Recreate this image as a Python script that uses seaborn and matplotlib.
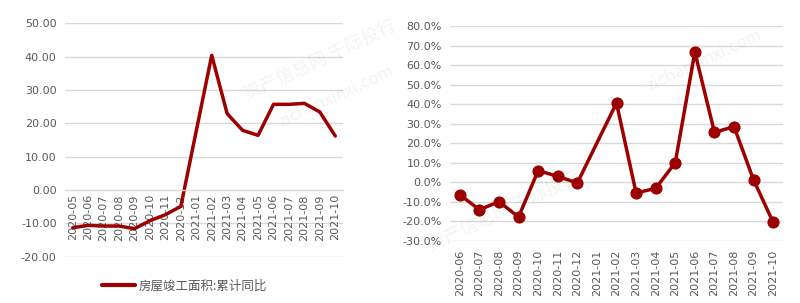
import numpy as np
import pandas as pd
import matplotlib
matplotlib.use("Agg")
import matplotlib.pyplot as plt
import seaborn as sns

# ---------------- data ----------------
left_months = ["2020-05", "2020-06", "2020-07", "2020-08", "2020-09", "2020-10",
               "2020-11", "2020-12", "2021-01", "2021-02", "2021-03", "2021-04",
               "2021-05", "2021-06", "2021-07", "2021-08", "2021-09", "2021-10"]
left_values = [-11.3, -10.6, -10.8, -10.8, -11.6, -9.2, -7.4, -4.9, np.nan, 40.4,
               22.9, 17.9, 16.4, 25.7, 25.7, 26.0, 23.4, 16.2]
left_label = "房屋竣工面积:累计同比"
left_yticks = [-20, -10, 0, 10, 20, 30, 40, 50]

right_months = ["2020-06", "2020-07", "2020-08", "2020-09", "2020-10", "2020-11",
                "2020-12", "2021-01", "2021-02", "2021-03", "2021-04", "2021-05",
                "2021-06", "2021-07", "2021-08", "2021-09", "2021-10"]
right_values = [-6.3, -14.0, -9.9, -17.7, 6.0, 3.1, -0.3, np.nan, 40.6, -5.4,
                -3.1, 10.1, 66.7, 25.6, 28.5, 1.2, -20.5]
right_yticks = [-30, -20, -10, 0, 10, 20, 30, 40, 50, 60, 70, 80]

watermark_cn = "资产信息网 千际投行"
watermark_en = "zichanxinxi.com"

# ---------------- style ----------------
sns.set_theme(style="white")
plt.rcParams['font.family'] = ['DejaVu Sans', 'Noto Sans CJK SC']
RED = "#9C0000"
GRID = "#D9D9D9"
TXT = "#595959"

fig = plt.figure(figsize=(8.0, 3.03), dpi=100)

# ---------------- left chart ----------------
axL = fig.add_axes([0.08125, 0.1528, 0.3475, 0.7702])
dfL = pd.DataFrame({"pos": np.arange(len(left_months)), "val": left_values}).dropna()
sns.lineplot(data=dfL, x="pos", y="val", ax=axL, color=RED, linewidth=2.5,
             label=left_label, legend=False)
axL.set_xlim(-0.5, len(left_months) - 0.5)
axL.set_ylim(-20, 50)
axL.set_yticks(left_yticks)
axL.set_yticklabels([f"{v:.2f}" for v in left_yticks], color=TXT, fontsize=8)
for y in left_yticks:
    if y != 0:
        axL.axhline(y, color=GRID, lw=1, zorder=0)
axL.spines['bottom'].set_position(('data', 0))
axL.spines['bottom'].set_color(GRID)
axL.spines['bottom'].set_linewidth(1)
for s in ['top', 'right', 'left']:
    axL.spines[s].set_visible(False)
axL.set_xticks(np.arange(len(left_months)))
axL.set_xticklabels(left_months, rotation=90, color=TXT, fontsize=8)
axL.set_xticks(np.arange(len(left_months) + 1) - 0.5, minor=True)
axL.tick_params(axis='x', which='major', length=0, pad=3)
axL.tick_params(axis='x', which='minor', length=4, width=1, color=GRID, direction='out')
axL.tick_params(axis='y', length=0, pad=6)
axL.set_xlabel("")
axL.set_ylabel("")

# legend
h = plt.Line2D([], [], color=RED, lw=3)
fig.legend([h], [left_label], loc='center', bbox_to_anchor=(0.231, 0.056),
           frameon=False, handlelength=2.6, handletextpad=0.3,
           prop={'family': 'Noto Sans CJK SC', 'size': 9}, labelcolor=TXT)

# ---------------- right chart ----------------
axR = fig.add_axes([0.5625, 0.2046, 0.41625, 0.7096])
dfR = pd.DataFrame({"pos": np.arange(len(right_months)), "val": right_values}).dropna()
sns.lineplot(data=dfR, x="pos", y="val", ax=axR, color=RED, linewidth=2.5,
             marker="o", markersize=8, markeredgecolor=RED, markerfacecolor=RED,
             legend=False)
axR.set_xlim(-0.5, len(right_months) - 0.5)
axR.set_ylim(-30, 80)
axR.set_yticks(right_yticks)
axR.set_yticklabels([f"{v:.1f}%" for v in right_yticks], color=TXT, fontsize=8)
for y in right_yticks:
    axR.axhline(y, color=GRID, lw=1, zorder=0)
for s in ['top', 'right', 'left', 'bottom']:
    axR.spines[s].set_visible(False)
axR.set_xticks(np.arange(len(right_months)))
axR.set_xticklabels(right_months, rotation=90, color=TXT, fontsize=8)
axR.tick_params(axis='x', length=0, pad=6)
axR.tick_params(axis='y', length=0, pad=6)
axR.set_xlabel("")
axR.set_ylabel("")

# ---------------- faint watermarks (kept inside the figure) ----------------
wm = dict(color="#000000", alpha=0.05, rotation=25, ha="center", va="center",
          family=['Noto Sans CJK SC', 'DejaVu Sans'], zorder=10)
for (x, y, t, s) in [(0.40, 0.80, watermark_cn, 13), (0.42, 0.68, watermark_en, 12),
                     (0.63, 0.30, watermark_cn, 13), (0.88, 0.80, watermark_en, 12)]:
    fig.text(x, y, t, fontsize=s, **wm)

fig.savefig("out.png", dpi=100)
